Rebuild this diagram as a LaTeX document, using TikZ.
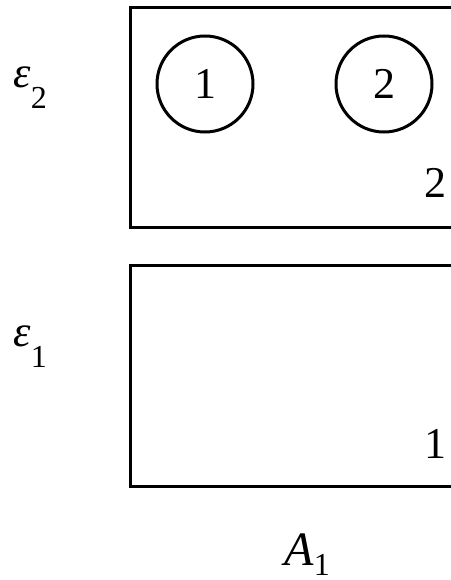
\documentclass[tikz,border=0pt]{standalone}
\usepackage{fontspec}
\setmainfont{Liberation Serif}
\newcommand{\subfig}[1]{{\fontsize{32}{32}\selectfont #1}}
\begin{document}
\begin{tikzpicture}[x=1pt, y=-1pt, line width=3pt,
    big/.style={font=\fontsize{44}{50}\selectfont, inner sep=0pt},
    ball/.style={draw, circle, minimum size=96pt, inner sep=0pt, font=\fontsize{44}{50}\selectfont}]
    \useasboundingbox (0,0) rectangle (450,580);
    % the two levels, open at the right
    \draw (452,8) -- (130,8) -- (130,227) -- (452,227);
    \draw (452,265) -- (130,265) -- (130,486) -- (452,486);
    \foreach \n/\x in {1/205,2/384} {
        \node[ball] (c\n) at (\x,84) {\n};
    }
    \node[big, anchor=base east] (n2) at (448,197) {2};
    \node[big, anchor=base east] (n1) at (448,458) {1};
    \node[big, anchor=base west] (e2) at (12,88) {\textit{ε}\raisebox{-21pt}{\subfig{2}}};
    \node[big, anchor=base west] (e1) at (12,346) {\textit{ε}\raisebox{-21pt}{\subfig{1}}};
    \node[big, anchor=base west, font=\fontsize{48}{50}\selectfont] (a1) at (283,565) {\textit{A}\raisebox{-10pt}{\subfig{1}}};
\end{tikzpicture}
\end{document}
